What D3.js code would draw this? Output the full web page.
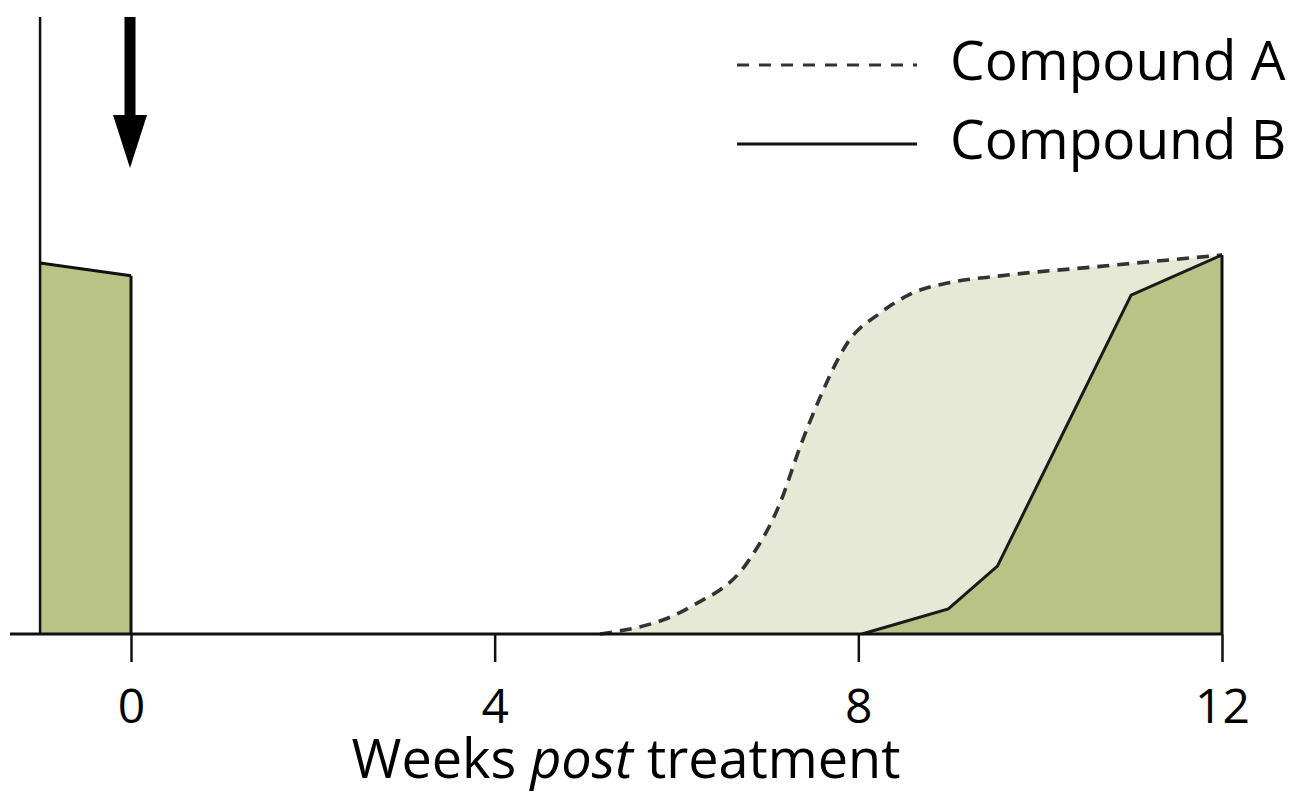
<!DOCTYPE html>
<html><head><meta charset="utf-8">
<script src="https://cdn.jsdelivr.net/npm/d3@7"></script>
<style>html,body{margin:0;padding:0;background:#fff;}svg{display:block;}</style>
</head><body>
<svg id="chart" width="1298" height="793"></svg>
<script>
// Data (weeks post treatment, relative level %)
const xTicks = [0, 4, 8, 12];
const xLabel = ["Weeks ", "post", " treatment"];
const seriesNames = ["Compound A", "Compound B"];
const pretreatWeeks = [-1, 0];
const pretreatValues = [97.9, 94.5];
const compoundAWeeks = [5.16, 6.15, 6.78, 7.14, 7.36, 7.58, 7.88, 8.24, 8.60, 8.98, 9.56, 10.66, 12];
const compoundAValues = [0, 7.1, 18.9, 34.6, 49.4, 62.5, 76.8, 84.7, 90.0, 92.6, 94.5, 97.0, 100];
const compoundBWeeks = [8.04, 8.99, 9.53, 11.0, 12];
const compoundBValues = [0, 6.6, 17.9, 89.4, 100];

const svg = d3.select("#chart");
const x = d3.scaleLinear().domain([0, 12]).range([131, 1222]);
const y = d3.scaleLinear().domain([0, 100]).range([634, 255]);
const lightFill = "#e5e9d6", darkFill = "#b8c385", ink = "#111";
const font = "'Open Sans', sans-serif";

const zipPts = (w, v) => w.map((d, i) => ({w: d, v: v[i]}));
const A = zipPts(compoundAWeeks, compoundAValues);
const B = zipPts(compoundBWeeks, compoundBValues);
const P = zipPts(pretreatWeeks, pretreatValues);

// Areas
const areaA = d3.area().x(d => x(d.w)).y0(y(0)).y1(d => y(d.v)).curve(d3.curveMonotoneX);
const areaB = d3.area().x(d => x(d.w)).y0(y(0)).y1(d => y(d.v)).curve(d3.curveLinear);
svg.append("path").attr("d", areaA(A)).attr("fill", lightFill);
svg.append("path").attr("d", areaB(B)).attr("fill", darkFill);
svg.append("path").attr("d", areaB(P)).attr("fill", darkFill);

// Lines
const lineA = d3.line().x(d => x(d.w)).y(d => y(d.v)).curve(d3.curveMonotoneX);
const lineL = d3.line().x(d => x(d.w)).y(d => y(d.v));
svg.append("path").attr("d", lineA(A)).attr("fill", "none").attr("stroke", "#333")
  .attr("stroke-width", 3.6).attr("stroke-dasharray", "12,8");
svg.append("path").attr("d", lineL(B)).attr("fill", "none").attr("stroke", "#1a1a1a").attr("stroke-width", 3);
// pretreatment block outline
svg.append("path").attr("d", lineL(P)).attr("fill", "none").attr("stroke", ink).attr("stroke-width", 3);
svg.append("line").attr("x1", x(0)).attr("x2", x(0)).attr("y1", y(pretreatValues[1])).attr("y2", y(0))
  .attr("stroke", ink).attr("stroke-width", 3);
// right edge at week 12
svg.append("line").attr("x1", x(12)).attr("x2", x(12)).attr("y1", y(100)).attr("y2", y(0))
  .attr("stroke", ink).attr("stroke-width", 3);

// Y axis line
svg.append("line").attr("x1", x(-1)).attr("x2", x(-1)).attr("y1", 17).attr("y2", y(0))
  .attr("stroke", ink).attr("stroke-width", 2.5);

// X axis
const xAxis = d3.axisBottom(x).tickValues(xTicks).tickSize(28).tickPadding(27).tickSizeOuter(0);
const gx = svg.append("g").attr("transform", `translate(0,${y(0)})`).call(xAxis);
gx.select(".domain").remove();
gx.append("line").attr("x1", 10).attr("x2", x(12)).attr("y1", 0).attr("y2", 0)
  .attr("stroke", ink).attr("stroke-width", 3);
gx.selectAll(".tick line").attr("stroke", ink).attr("stroke-width", 2.5);
gx.selectAll(".tick text").attr("fill", "#000").attr("font-family", font).attr("font-size", 48);

// Axis title
const title = svg.append("text").attr("x", 626).attr("y", 778).attr("text-anchor", "middle")
  .attr("font-family", font).attr("font-size", 54).attr("fill", "#000");
title.selectAll("tspan").data(xLabel).join("tspan")
  .attr("font-style", (d, i) => i === 1 ? "italic" : "normal").text(d => d);

// Arrow at treatment (week 0)
const ax = x(0) - 1;
svg.append("rect").attr("x", ax - 5.5).attr("y", 17).attr("width", 11).attr("height", 100).attr("fill", "#000");
svg.append("path").attr("d", `M${ax - 17},115 L${ax + 17},115 L${ax},168 Z`).attr("fill", "#000");

// Legend
const legend = svg.append("g");
const ly = [65, 144];
seriesNames.forEach((name, i) => {
  legend.append("line").attr("x1", 737).attr("x2", 917).attr("y1", ly[i]).attr("y2", ly[i])
    .attr("stroke", i === 0 ? "#333" : "#111").attr("stroke-width", 3)
    .attr("stroke-dasharray", i === 0 ? "12,10" : null);
  legend.append("text").attr("x", 950).attr("y", ly[i] + 15).attr("font-family", font)
    .attr("font-size", 55).attr("fill", "#000").text(name);
});
</script>
</body></html>
